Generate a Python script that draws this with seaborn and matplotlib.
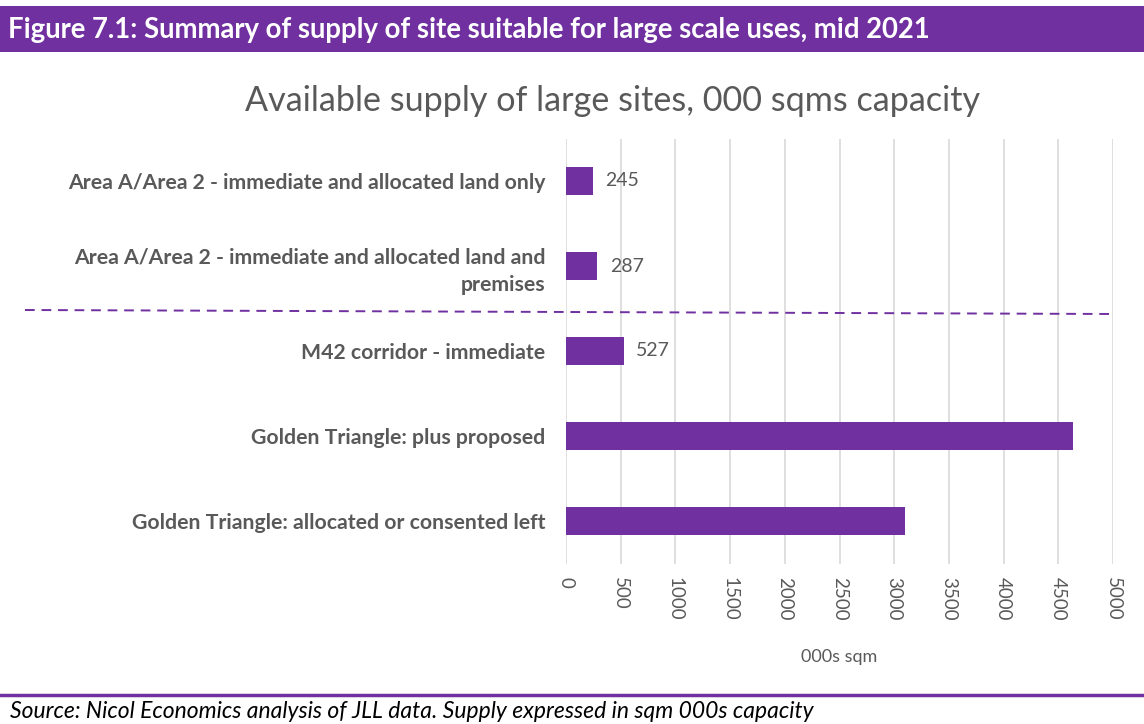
import matplotlib
matplotlib.use("Agg")
import matplotlib.pyplot as plt
import seaborn as sns
import pandas as pd
from matplotlib.patches import Rectangle
from matplotlib.lines import Line2D

categories = [
    "Area A/Area 2 - immediate and allocated land only",
    "Area A/Area 2 - immediate and allocated land and\npremises",
    "M42 corridor - immediate",
    "Golden Triangle: plus proposed",
    "Golden Triangle: allocated or consented left",
]
values = [245, 287, 527, 4630, 3100]
value_labels = ["245", "287", "527", "", ""]
x_ticks = [0, 500, 1000, 1500, 2000, 2500, 3000, 3500, 4000, 4500, 5000]

PURPLE = "#7030A0"
GREY = "#595959"

sns.set_theme(style="white")
plt.rcParams["font.family"] = ["Lato", "DejaVu Sans"]

W, H = 1144, 724
fig = plt.figure(figsize=(W / 100, H / 100), dpi=100)
ax = fig.add_axes([566 / W, 1 - 563.5 / H, (1113 - 566) / W, (563.5 - 138.5) / H])

df = pd.DataFrame({"cat": categories, "val": values})
sns.barplot(data=df, y="cat", x="val", orient="h", color=PURPLE, width=0.32,
            saturation=1, ax=ax, zorder=3)
for p in ax.patches:
    p.set_edgecolor("none")

ax.bar_label(ax.containers[0], labels=value_labels, padding=9, fontsize=14, color=GREY)

ax.set_xlim(0, 5000)
ax.set_xticks(x_ticks)
ax.set_xticklabels([str(t) for t in x_ticks], rotation=-90, fontsize=13.5, color=GREY)
ax.tick_params(axis="x", length=0, pad=10)
ax.tick_params(axis="y", length=0, pad=15)
for lbl in ax.get_yticklabels():
    lbl.set_fontweight("bold")
    lbl.set_fontsize(15.3)
    lbl.set_color(GREY)
    lbl.set_linespacing(1.45)
ax.grid(axis="x", color="#D9D9D9", linewidth=1.2, zorder=0)
ax.set_axisbelow(True)
for s in ax.spines.values():
    s.set_visible(False)
ax.set_ylabel("")
ax.set_xlabel("000s sqm", fontsize=13, color=GREY, labelpad=20)

# header band
fig.patches.append(Rectangle((0, 1 - 52 / H), 1, 46 / H, transform=fig.transFigure,
                             facecolor=PURPLE, edgecolor="none", zorder=0))
fig.text(8 / W, 1 - 30 / H, "Figure 7.1: Summary of supply of site suitable for large scale uses, mid 2021",
         color="white", fontsize=19.8, fontweight="bold", va="center", ha="left")

# chart title
fig.text(613 / W, 1 - 101 / H, "Available supply of large sites, 000 sqms capacity",
         color=GREY, fontsize=24.6, va="center", ha="center")

# dashed separator
fig.add_artist(Line2D([25 / W, 1113 / W], [1 - 310 / H, 1 - 314 / H], transform=fig.transFigure,
                      color=PURPLE, linestyle=(0, (5, 3.5)), linewidth=1.4))

# bottom rule and source
fig.add_artist(Line2D([0, 1], [1 - 695 / H, 1 - 695 / H], transform=fig.transFigure,
                      color=PURPLE, linewidth=2.5))
fig.text(10 / W, 1 - 712 / H, "Source: Nicol Economics analysis of JLL data. Supply expressed in sqm 000s capacity",
         color="black", fontsize=16.5, fontstyle="italic", va="center", ha="left")

fig.savefig("out.png", dpi=100)
